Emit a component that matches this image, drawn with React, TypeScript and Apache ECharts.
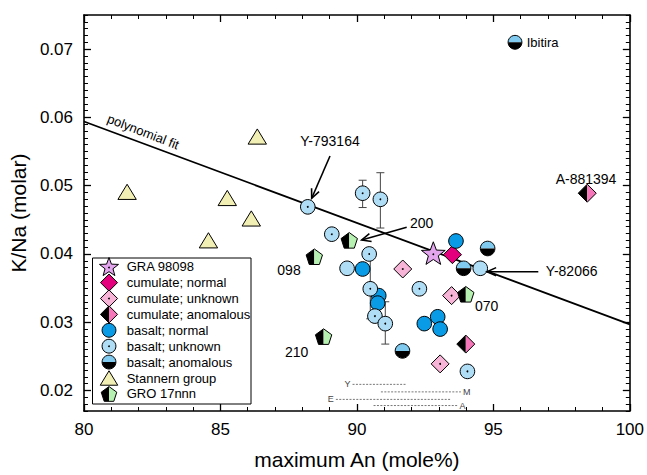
import React, { useEffect, useRef } from "react";
import * as echarts from "echarts";

const FONT = "'Liberation Sans', Arial, Helvetica, sans-serif";

// ---- axes ----
const xMin = 80;
const xMax = 100;
const xTickStep = 5;
const yMin = 0.017;
const yMax = 0.075;
const yMajorTicks = [0.02, 0.03, 0.04, 0.05, 0.06, 0.07];
const yMinorTicks: number[] = [];
for (let k = 17; k <= 75; k++) if (k % 10 !== 0) yMinorTicks.push(k / 1000);

// ---- data (x = maximum An mole%, y = K/Na molar) ----
const gra98098 = [[92.8, 0.0401]];
const cumulateNormal = [[93.5, 0.0399]];
const cumulateUnknown = [[91.68, 0.0378], [93.47, 0.0339], [93.05, 0.0239]];
const cumulateAnomalous = [[93.99, 0.0268], [98.44, 0.0489]];
const basaltNormal = [
  [93.63, 0.0419], [90.21, 0.0378], [90.8, 0.0339], [90.76, 0.0328],
  [92.47, 0.0298], [92.96, 0.0308], [93.05, 0.029],
];
const basaltUnknown = [
  [88.2, 0.0469], [90.21, 0.0489], [90.86, 0.048], [89.08, 0.0429],
  [90.45, 0.04], [89.64, 0.0379], [90.49, 0.0349], [90.66, 0.0309],
  [91.04, 0.0298], [92.29, 0.0349], [94.52, 0.0379], [94.05, 0.0228],
];
const basaltAnomalous = [[94.79, 0.0408], [93.91, 0.0379], [91.67, 0.0258]];
const stannern = [[81.58, 0.0491], [86.35, 0.0572], [85.25, 0.0482], [86.13, 0.0452], [84.56, 0.042]];
const gro17 = [[89.72, 0.042], [88.44, 0.0396], [88.78, 0.0279], [93.99, 0.0341]];

// error bars: [x, y, low, high]
const errorBars = [
  [90.21, 0.0489, 0.0468, 0.0508],
  [90.86, 0.048, 0.0438, 0.0519],
  [91.04, 0.0298, 0.0268, 0.033],
  [90.49, 0.0349, 0.0305, 0.0394],
];

// polynomial fit
const fitX = [80, 100];
const fitY = [0.0594, 0.0297];

// An ranges (dashed)
const rangeNames = ["Y", "M", "E", "A"];
const rangeStart = [89.84, 90.88, 89.23, 90.61];
const rangeEnd = [91.83, 93.81, 93.44, 93.69];
const rangeY = [0.0209, 0.0198, 0.0187, 0.0178];
const rangeLabelSide = ["left", "right", "left", "right"];

const legendNames = [
  "GRA 98098", "cumulate; normal", "cumulate; unknown", "cumulate; anomalous",
  "basalt; normal", "basalt; unknown", "basalt; anomalous", "Stannern group", "GRO 17nnn",
];
const legendKinds = ["star", "cumN", "cumU", "cumA", "basN", "basU", "basA", "stan", "gro"];
const seriesData = [
  gra98098, cumulateNormal, cumulateUnknown, cumulateAnomalous,
  basaltNormal, basaltUnknown, basaltAnomalous, stannern, gro17,
];

const COL: Record<string, string> = {
  star: "#e2a5ee",
  cumN: "#e4007c",
  cumU: "#f8b4d6",
  cumA: "#f577b9",
  basN: "#0a9be6",
  basU: "#afddf5",
  basA: "#80caf0",
  stan: "#f2efb4",
  gro: "#b7f1b1",
};

function shapes(kind: string, cx: number, cy: number, s = 1): any[] {
  const stroke = { stroke: "#000", lineWidth: 1 };
  const dot = { type: "circle", shape: { cx, cy, r: 0.9 }, style: { fill: "#000" } };
  const r = 7.3 * s;
  switch (kind) {
    case "basN":
      return [{ type: "circle", shape: { cx, cy, r }, style: { fill: COL.basN, ...stroke } }];
    case "basU":
      return [{ type: "circle", shape: { cx, cy, r }, style: { fill: COL.basU, ...stroke } }, dot];
    case "basA":
      return [
        { type: "sector", shape: { cx, cy, r0: 0, r, startAngle: Math.PI, endAngle: 2 * Math.PI }, style: { fill: COL.basA } },
        { type: "sector", shape: { cx, cy, r0: 0, r, startAngle: 0, endAngle: Math.PI }, style: { fill: "#000" } },
        { type: "circle", shape: { cx, cy, r }, style: { fill: "none", ...stroke } },
      ];
    case "cumN":
    case "cumU": {
      const h = 9 * s;
      const pts = [[cx, cy - h], [cx + h, cy], [cx, cy + h], [cx - h, cy]];
      const els: any[] = [{ type: "polygon", shape: { points: pts }, style: { fill: COL[kind], ...stroke } }];
      if (kind === "cumU") els.push(dot);
      return els;
    }
    case "cumA": {
      const h = 9 * s;
      return [
        { type: "polygon", shape: { points: [[cx, cy - h], [cx, cy + h], [cx - h, cy]] }, style: { fill: "#000" } },
        { type: "polygon", shape: { points: [[cx, cy - h], [cx + h, cy], [cx, cy + h]] }, style: { fill: COL.cumA } },
        { type: "polygon", shape: { points: [[cx, cy - h], [cx + h, cy], [cx, cy + h], [cx - h, cy]] }, style: { fill: "none", ...stroke } },
      ];
    }
    case "stan": {
      const hw = 9.2 * s;
      const hh = 7.6 * s;
      return [{ type: "polygon", shape: { points: [[cx, cy - hh], [cx + hw, cy + hh], [cx - hw, cy + hh]] }, style: { fill: COL.stan, ...stroke } }];
    }
    case "gro": {
      const R = 8.6 * s;
      const c0 = cy + R * 0.1;
      const v = (deg: number) => [cx + R * Math.cos((deg * Math.PI) / 180), c0 + R * Math.sin((deg * Math.PI) / 180)];
      const top = v(-90), ru = v(-18), rl = v(54), ll = v(126), lu = v(198);
      const bm = [cx, rl[1]];
      return [
        { type: "polygon", shape: { points: [top, lu, ll, bm] }, style: { fill: "#000" } },
        { type: "polygon", shape: { points: [top, ru, rl, bm] }, style: { fill: COL.gro } },
        { type: "polygon", shape: { points: [top, ru, rl, ll, lu] }, style: { fill: "none", ...stroke } },
      ];
    }
    case "star": {
      const Ro = 12.5 * s, Ri = 5.2 * s;
      const pts: number[][] = [];
      for (let i = 0; i < 10; i++) {
        const a = -Math.PI / 2 + (i * Math.PI) / 5;
        const rr = i % 2 === 0 ? Ro : Ri;
        pts.push([cx + rr * Math.cos(a), cy + 1 * s + rr * Math.sin(a)]);
      }
      return [{ type: "polygon", shape: { points: pts }, style: { fill: COL.star, ...stroke } }, { ...dot, shape: { cx, cy: cy + 1 * s, r: 0.9 } }];
    }
  }
  return [];
}

function arrow(x1: number, y1: number, x2: number, y2: number): any[] {
  const a = Math.atan2(y2 - y1, x2 - x1);
  const L = 10, sp = 0.42;
  const p1 = [x2 - L * Math.cos(a - sp), y2 - L * Math.sin(a - sp)];
  const p2 = [x2 - L * Math.cos(a + sp), y2 - L * Math.sin(a + sp)];
  const st = { stroke: "#000", lineWidth: 1.6, fill: "none" };
  return [
    { type: "line", shape: { x1, y1, x2, y2 }, style: st, z: 50 },
    { type: "polyline", shape: { points: [p1, [x2, y2], p2] }, style: st, z: 50 },
  ];
}

function txt(text: string, x: number, y: number, size: number, align = "center", extra: any = {}): any {
  return {
    type: "text", x, y, z: 50, ...extra,
    style: { text, fontSize: size, fontFamily: FONT, fill: extra.fill || "#000", align, verticalAlign: "middle" },
  };
}

export default function App() {
  const ref = useRef<HTMLDivElement>(null);
  useEffect(() => {
    document.body.style.margin = "0";
    if (!ref.current) return;
    const chart = echarts.init(ref.current, null, { renderer: "svg" });

    const axisLineStyle = { color: "#000", width: 1.6 };
    const markerSeries = legendNames.map((name, i) => ({
      name,
      type: "custom",
      xAxisIndex: 0,
      yAxisIndex: 0,
      z: 5 + i * 0.01,
      data: seriesData[i],
      encode: { x: 0, y: 1 },
      renderItem: (params: any, api: any) => {
        const p = api.coord([api.value(0), api.value(1)]);
        return { type: "group", children: shapes(legendKinds[i], p[0], p[1]) };
      },
    }));

    const rangeSeries = rangeNames.map((n, i) => ({
      name: "range " + n,
      type: "line",
      symbol: "none",
      z: 3,
      data: [[rangeStart[i], rangeY[i]], [rangeEnd[i], rangeY[i]]],
      lineStyle: { color: "#555", width: 0.8, type: [2, 1.4] },
    }));

    const option: any = {
      animation: false,
      backgroundColor: "#fff",
      grid: { left: 83, right: 17, top: 15, bottom: 61, containLabel: false },
      xAxis: [
        {
          type: "value", min: xMin, max: xMax, interval: xTickStep, position: "bottom",
          axisLine: { onZero: false, lineStyle: axisLineStyle },
          axisTick: { inside: true, length: 7, lineStyle: { color: "#000", width: 1.3 } },
          minorTick: { show: true, splitNumber: 5, length: 4, lineStyle: { color: "#000", width: 1 } },
          axisLabel: { fontSize: 17, color: "#000", fontFamily: FONT, margin: 10 },
          splitLine: { show: false },
          name: "maximum An (mole%)", nameLocation: "middle", nameGap: 38,
          nameTextStyle: { fontSize: 21, color: "#000", fontFamily: FONT },
        },
        {
          type: "value", min: xMin, max: xMax, interval: xTickStep, position: "top",
          axisLine: { onZero: false, lineStyle: axisLineStyle },
          axisTick: { inside: true, length: 7, lineStyle: { color: "#000", width: 1.3 } },
          minorTick: { show: true, splitNumber: 5, length: 4, lineStyle: { color: "#000", width: 1 } },
          axisLabel: { show: false },
          splitLine: { show: false },
        },
      ],
      yAxis: [
        {
          type: "value", min: yMin, max: yMax, position: "left",
          axisLine: { onZero: false, lineStyle: axisLineStyle },
          axisTick: { inside: true, length: 7, customValues: yMajorTicks, lineStyle: { color: "#000", width: 1.3 } },
          axisLabel: { customValues: yMajorTicks, fontSize: 17, color: "#000", fontFamily: FONT, margin: 11, formatter: (v: number) => v.toFixed(2) },
          splitLine: { show: false },
          name: "K/Na (molar)", nameLocation: "middle", nameGap: 50,
          nameTextStyle: { fontSize: 21, color: "#000", fontFamily: FONT },
        },
        {
          type: "value", min: yMin, max: yMax, position: "left",
          axisLine: { show: false },
          axisTick: { inside: true, length: 4, customValues: yMinorTicks, lineStyle: { color: "#000", width: 1 } },
          axisLabel: { show: false },
          splitLine: { show: false },
        },
        {
          type: "value", min: yMin, max: yMax, position: "right",
          axisLine: { onZero: false, lineStyle: axisLineStyle },
          axisTick: { inside: true, length: 7, customValues: yMajorTicks, lineStyle: { color: "#000", width: 1.3 } },
          axisLabel: { show: false },
          splitLine: { show: false },
        },
        {
          type: "value", min: yMin, max: yMax, position: "right",
          axisLine: { show: false },
          axisTick: { inside: true, length: 4, customValues: yMinorTicks, lineStyle: { color: "#000", width: 1 } },
          axisLabel: { show: false },
          splitLine: { show: false },
        },
      ],
      series: [
        {
          name: "polynomial fit", type: "line", symbol: "none", z: 2,
          data: fitX.map((x, i) => [x, fitY[i]]),
          lineStyle: { color: "#000", width: 1.8 },
        },
        ...rangeSeries,
        {
          name: "error bars", type: "custom", z: 4,
          data: errorBars,
          encode: { x: 0, y: [1, 2, 3] },
          renderItem: (params: any, api: any) => {
            const x = api.value(0);
            const lo = api.coord([x, api.value(2)]);
            const hi = api.coord([x, api.value(3)]);
            const w = 4;
            const st = { stroke: "#444", lineWidth: 1 };
            return {
              type: "group",
              children: [
                { type: "line", shape: { x1: lo[0], y1: lo[1], x2: hi[0], y2: hi[1] }, style: st },
                { type: "line", shape: { x1: lo[0] - w, y1: lo[1], x2: lo[0] + w, y2: lo[1] }, style: st },
                { type: "line", shape: { x1: hi[0] - w, y1: hi[1], x2: hi[0] + w, y2: hi[1] }, style: st },
              ],
            };
          },
        },
        ...markerSeries,
      ],
    };
    chart.setOption(option);

    // annotations & legend
    const g: any[] = [];
    const lx = 92.5, ly = 258, lw = 158.5, lh = 146;
    g.push({ type: "rect", shape: { x: lx, y: ly, width: lw, height: lh }, style: { fill: "#fff", stroke: "#000", lineWidth: 1 }, z: 40 });
    legendNames.forEach((n, i) => {
      const cy = 266.7 + i * 15.9;
      g.push({ type: "group", z: 41, children: shapes(legendKinds[i], 109, cy, legendKinds[i] === "star" ? 0.8 : 0.95).map((e) => ({ ...e, z: 41 })) });
      g.push(txt(n, 126.7, cy, 13, "left", { z: 41 }));
    });
    g.push({ type: "group", z: 41, children: shapes("basA", 515, 42.3, 0.95).map((e) => ({ ...e, z: 41 })) });
    g.push(txt("Ibitira", 526.7, 42.3, 13, "left"));
    g.push(txt("polynomial fit", 143.3, 131.7, 13, "center", { rotation: -0.37 }));
    g.push(txt("Y-793164", 330, 140.7, 14));
    g.push(...arrow(330, 156, 311.7, 198.3));
    g.push(txt("200", 421.7, 223.3, 14));
    g.push(...arrow(406.7, 227.3, 361.7, 240));
    g.push(txt("Y-82066", 571.7, 271, 14));
    g.push(...arrow(538.3, 271.7, 487, 271.7));
    g.push(txt("A-881394", 586, 179, 14));
    g.push(txt("098", 289, 270, 14));
    g.push(txt("070", 486.7, 306, 14));
    g.push(txt("210", 296.7, 351.7, 14));
    rangeNames.forEach((n, i) => {
      const left = rangeLabelSide[i] === "left";
      const p = chart.convertToPixel({ gridIndex: 0 }, [left ? rangeStart[i] : rangeEnd[i], rangeY[i]]) as number[];
      g.push(txt(n, left ? p[0] - 2 : p[0] + 2, p[1], 9, left ? "right" : "left", { fill: "#444" }));
    });
    chart.setOption({ graphic: g });

    return () => chart.dispose();
  }, []);
  return <div ref={ref} style={{ width: 647, height: 475 }} />;
}
